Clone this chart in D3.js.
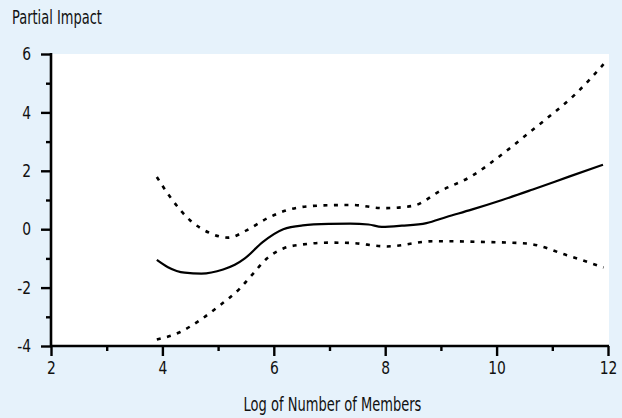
<!DOCTYPE html>
<html>
<head>
<meta charset="utf-8">
<script src="https://cdnjs.cloudflare.com/ajax/libs/d3/7.8.5/d3.min.js"></script>
<style>
  html, body { margin: 0; padding: 0; background: #e6f2fb; }
  svg { display: block; }
  text { font-family: "DejaVu Sans", sans-serif; font-stretch: condensed; fill: #111; }
</style>
</head>
<body>
<svg id="chart" width="622" height="418"></svg>
<script>
// Estimated partial impact (solid) with confidence band (dashed)
const fitX   = [3.9, 4.1, 4.4, 4.7, 5.09, 5.3, 5.48, 5.8, 6.17, 6.52, 7.0, 7.37, 7.7, 7.94, 8.3, 8.74, 9.1, 9.55, 10.1, 10.65, 11.3, 11.91];
const fitY   = [-1.05, -1.3, -1.49, -1.52, -1.38, -1.22, -1.0, -0.44, 0.0, 0.13, 0.18, 0.19, 0.16, 0.08, 0.12, 0.21, 0.42, 0.67, 1.0, 1.36, 1.8, 2.21];

const upperX = [3.9, 4.14, 4.5, 4.85, 5.18, 5.51, 5.87, 6.23, 6.59, 7.0, 7.4, 7.97, 8.5, 8.98, 9.58, 10.0, 10.6, 10.9, 11.4, 11.92];
const upperY = [1.79, 1.1, 0.3, -0.13, -0.29, -0.04, 0.36, 0.65, 0.78, 0.82, 0.83, 0.72, 0.8, 1.3, 1.85, 2.42, 3.33, 3.79, 4.6, 5.65];

const lowerX = [3.9, 4.32, 4.67, 5.03, 5.39, 5.63, 5.87, 6.17, 6.53, 7.0, 7.37, 8.03, 8.87, 9.82, 10.54, 11.26, 11.92];
const lowerY = [-3.78, -3.52, -3.12, -2.61, -2.03, -1.52, -1.01, -0.66, -0.52, -0.46, -0.47, -0.59, -0.41, -0.44, -0.49, -0.89, -1.31];

const xMajor = [2, 4, 6, 8, 10, 12];
const xMinor = [3, 5, 7, 9, 11];
const yMajor = [-4, -2, 0, 2, 4, 6];
const yMinor = [-3, -1, 1, 3, 5];

const yTitle = "Partial Impact";
const xTitle = "Log of Number of Members";

const svg = d3.select("#chart");
const plotLeft = 51, plotRight = 608, plotTop = 54, plotBottom = 346;

const x = d3.scaleLinear().domain([2, 12]).range([plotLeft, plotRight]);
const y = d3.scaleLinear().domain([-4, 6]).range([plotBottom, plotTop]);

// plotting panel
svg.append("rect")
  .attr("x", plotLeft).attr("y", plotTop)
  .attr("width", plotRight - plotLeft + 1).attr("height", plotBottom - plotTop)
  .attr("fill", "#ffffff");

// curves
const line = d3.line().x(d => x(d[0])).y(d => y(d[1])).curve(d3.curveMonotoneX);
const zip = (a, b) => a.map((v, i) => [v, b[i]]);

svg.append("path").datum(zip(upperX, upperY))
  .attr("d", line).attr("fill", "none").attr("stroke", "#000")
  .attr("stroke-width", 2.6).attr("stroke-dasharray", "4,6.5");
svg.append("path").datum(zip(lowerX, lowerY))
  .attr("d", line).attr("fill", "none").attr("stroke", "#000")
  .attr("stroke-width", 2.6).attr("stroke-dasharray", "4,6.5");
svg.append("path").datum(zip(fitX, fitY))
  .attr("d", line).attr("fill", "none").attr("stroke", "#000")
  .attr("stroke-width", 2.2);

// axes (plain hyphen for negative numbers)
const fmt = d => String(d);
const xAxis = svg.append("g").attr("transform", `translate(0,${plotBottom})`);
xAxis.call(d3.axisBottom(x).tickValues(xMajor).tickSize(10).tickPadding(6).tickFormat(fmt));
const xMinorG = svg.append("g").attr("transform", `translate(0,${plotBottom})`);
xMinorG.call(d3.axisBottom(x).tickValues(xMinor).tickSize(5).tickFormat(""));

const yAxis = svg.append("g").attr("transform", `translate(${plotLeft},0)`);
yAxis.call(d3.axisLeft(y).tickValues(yMajor).tickSize(10).tickPadding(10).tickFormat(fmt));
const yMinorG = svg.append("g").attr("transform", `translate(${plotLeft},0)`);
yMinorG.call(d3.axisLeft(y).tickValues(yMinor).tickSize(5).tickFormat(""));

[xAxis, xMinorG, yAxis, yMinorG].forEach(g => {
  g.selectAll(".domain").remove();
  g.selectAll(".tick line").attr("stroke", "#000").attr("stroke-width", 2.4);
  g.selectAll(".tick text").attr("font-size", 17.5).attr("fill", "#111")
    .style("font-family", "'DejaVu Sans', sans-serif").style("font-stretch", "condensed");
});
// narrow the tick numerals a little, keeping their anchor points
xAxis.selectAll(".tick text").attr("transform", "scale(0.88,1)");
yAxis.selectAll(".tick text").each(function () {
  const t = d3.select(this), tx = +t.attr("x");
  t.attr("transform", `translate(${tx},0) scale(0.88,1)`).attr("x", 0);
});

svg.append("line").attr("x1", plotLeft).attr("x2", plotLeft).attr("y1", plotTop - 1).attr("y2", plotBottom + 1)
  .attr("stroke", "#000").attr("stroke-width", 2.6);
svg.append("line").attr("x1", plotLeft - 1).attr("x2", plotRight + 1).attr("y1", plotBottom).attr("y2", plotBottom)
  .attr("stroke", "#000").attr("stroke-width", 2.6);

// titles (tall, narrow lettering)
function title(txt, tx, ty, targetWidth, anchor) {
  const g = svg.append("g").attr("transform", `translate(${tx},${ty})`);
  const t = g.append("text").attr("font-size", 19).attr("text-anchor", anchor).text(txt);
  const w = t.node().getComputedTextLength();
  t.attr("transform", `scale(${targetWidth / w},1)`);
}
title(yTitle, 12, 23.5, 90, "start");
title(xTitle, 332.5, 411, 178, "middle");
</script>
</body>
</html>
